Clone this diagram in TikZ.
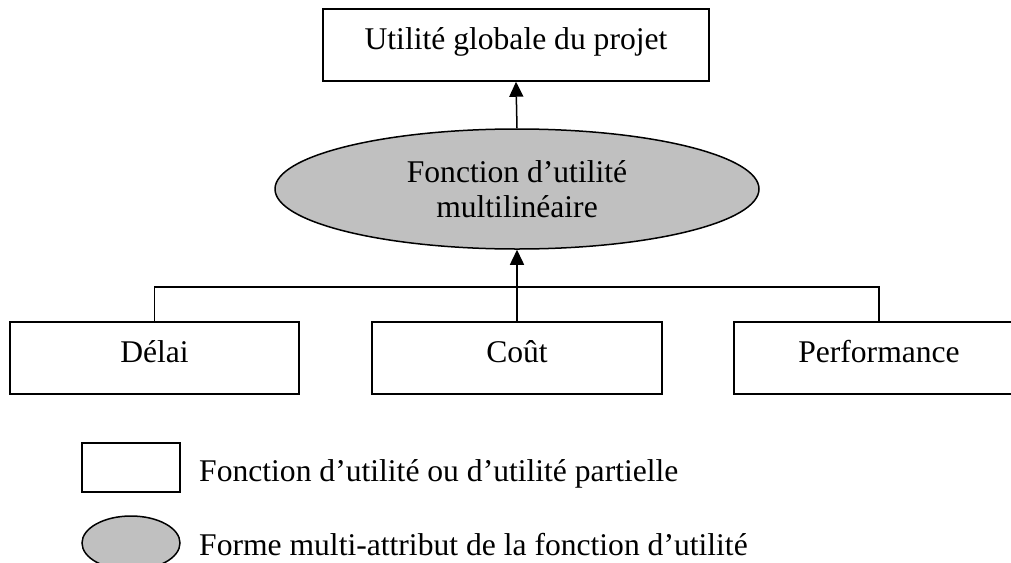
\documentclass[tikz,border=0pt]{standalone}
\usepackage{fontspec}
\setmainfont{Liberation Serif}
\usetikzlibrary{shapes.geometric,arrows.meta}
\definecolor{ellgray}{RGB}{192,192,192}
\tikzset{
  every node/.style={font=\fontsize{31.6}{35.5}\selectfont, inner sep=0pt},
  boxnode/.style={draw, line width=1.5pt, rectangle, minimum height=72pt, text height=22pt, text depth=13pt},
  ellnode/.style={draw, line width=1.5pt, ellipse, fill=ellgray, align=center},
  conn/.style={line width=1.5pt},
  arr/.style={line width=1.5pt, -{Triangle[width=14pt,length=15pt]}},
  legtext/.style={anchor=base west}
}
\begin{document}
\begin{tikzpicture}[x=1pt,y=-1pt]
\useasboundingbox (0,0) rectangle (1011,562);
\node[boxnode, minimum width=386pt] (top) at (516,45) {Utilité globale du projet};
\node[ellnode, minimum width=484pt, minimum height=120pt] (ell) at (517,189) {Fonction d’utilité\\multilinéaire};
\node[boxnode, minimum width=289pt] (delai) at (154.5,358) {Délai};
\node[boxnode, minimum width=290pt] (cout) at (517,358) {Coût};
\node[boxnode, minimum width=290pt] (perf) at (879,358) {Performance};
\coordinate (j) at (517,287);
\draw[arr] (ell.north) -- (top.south);
\draw[conn] (delai.north) -- (delai.north |- j) -- (perf.north |- j) -- (perf.north);
\draw[arr] (cout.north) -- (ell.south);
\node[draw, line width=1.5pt, rectangle, minimum width=98pt, minimum height=49pt] (legbox) at (131,467.5) {};
\node[draw, line width=1.5pt, ellipse, fill=ellgray, minimum width=98pt, minimum height=54pt] (legell) at (131,543) {};
\node[legtext] (legt1) at (199,481) {Fonction d’utilité ou d’utilité partielle};
\node[legtext] (legt2) at (199,555) {Forme multi-attribut de la fonction d’utilité};
\end{tikzpicture}
\end{document}
